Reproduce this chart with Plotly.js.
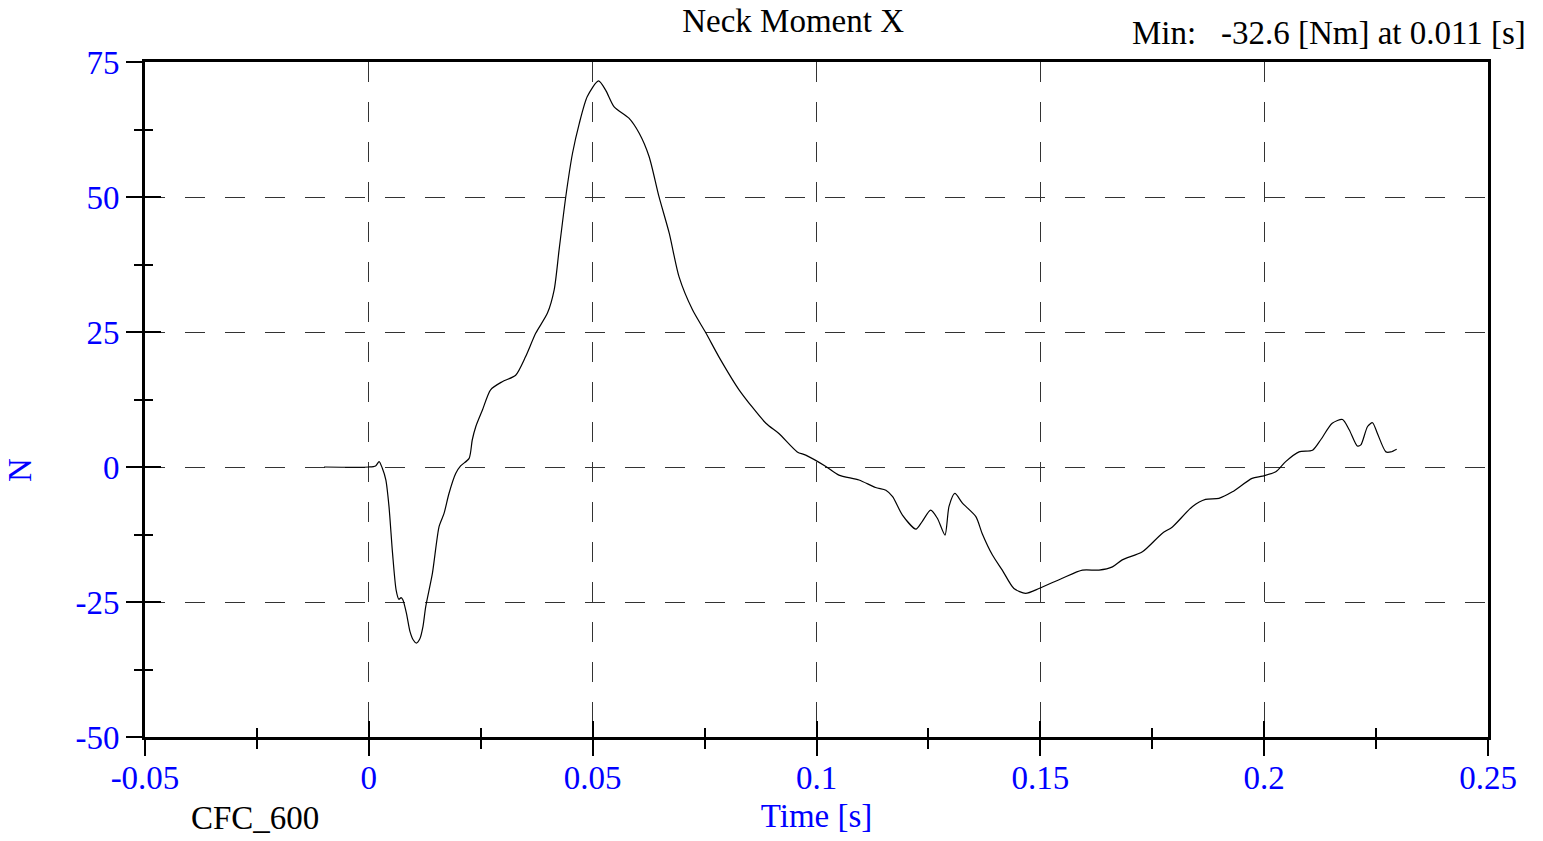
<!DOCTYPE html>
<html>
<head>
<meta charset="utf-8">
<script src="https://cdn.plot.ly/plotly-3.0.1.min.js"></script>
<style>html,body{margin:0;padding:0;background:#fff;}#chart{width:1543px;height:841px;}</style>
</head>
<body>
<div id="chart"></div>
<script>
const chartTitle = "Neck Moment X";
const minLabel = "Min:   -32.6 [Nm] at 0.011 [s]";
const filterLabel = "CFC_600";
const xTitle = "Time [s]";
const yTitle = "N";
const xTickVals = [-0.05, 0, 0.05, 0.1, 0.15, 0.2, 0.25];
const xTickText = ["-0.05", "0", "0.05", "0.1", "0.15", "0.2", "0.25"];
const yTickVals = [-50, -25, 0, 25, 50, 75];
const yTickText = ["-50", "-25", "0", "25", "50", "75"];

const time = [-0.01, 0.0, 0.0015, 0.0023, 0.003, 0.0038, 0.0045, 0.0053, 0.0061, 0.0067,
  0.0072, 0.0076, 0.0084, 0.0092, 0.0099, 0.0106, 0.0114, 0.0121, 0.0127, 0.0142, 0.0157, 0.0168,
  0.0179, 0.0194, 0.0205, 0.0224, 0.0231, 0.0239, 0.0254, 0.0272, 0.0298, 0.0328,
  0.035, 0.0373, 0.0399, 0.0414, 0.0425, 0.044, 0.0455, 0.047, 0.0488, 0.0513,
  0.0529, 0.0548, 0.0581, 0.0604, 0.0626, 0.0648, 0.0671, 0.0693, 0.0723, 0.0753,
  0.0782, 0.0827, 0.0887, 0.0916, 0.0957, 0.0976, 0.1021, 0.105, 0.1095, 0.1132,
  0.1155, 0.117, 0.1192, 0.1222, 0.1236, 0.1255, 0.127, 0.1287, 0.1296, 0.1309,
  0.1326, 0.1356, 0.137, 0.1393, 0.1415, 0.1441, 0.1467, 0.1497, 0.1549, 0.1594,
  0.1631, 0.1661, 0.1683, 0.1728, 0.1772, 0.1795, 0.184, 0.1869, 0.1899, 0.1929,
  0.1973, 0.1996, 0.2026, 0.2048, 0.2078, 0.2108, 0.2126, 0.2152, 0.2175, 0.219,
  0.2208, 0.2216, 0.2231, 0.2242, 0.2253, 0.2272, 0.2283, 0.2296];
const moment = [0, 0, 0.2, 1.0, -0.2, -2.4, -7.3, -16, -22.8, -24.5,
  -24.2, -24.6, -27.1, -30.5, -32.0, -32.6, -31.8, -29.5, -25.9, -19.7, -11, -8.6,
  -4.9, -1.2, 0.2, 1.6, 5.0, 7.5, 10.6, 14.3, 15.8, 17.0,
  20.4, 24.8, 28.5, 32.8, 40.2, 50.1, 58.1, 63.6, 68.6, 71.5,
  69.8, 66.7, 64.6, 61.8, 57.5, 50.1, 43.3, 35.2, 29.1, 24.8,
  20.4, 14.3, 8.1, 6.2, 2.8, 2.2, 0.1, -1.5, -2.4, -3.8,
  -4.3, -5.5, -8.9, -11.5, -10.1, -8.0, -9.5, -12.6, -7.3, -4.9,
  -6.7, -9.2, -12.3, -16.3, -19.1, -22.5, -23.4, -22.5, -20.6, -19.1,
  -19.1, -18.5, -17.2, -15.7, -12.3, -11.1, -7.3, -6.0, -5.8, -4.6,
  -2.1, -1.7, -0.9, 1.0, 2.8, 3.1, 5.0, 8.1, 8.8, 6.9,
  3.9, 4.1, 7.5, 8.2, 6.2, 2.8, 2.8, 3.3];

const FONT = "Liberation Serif, Times New Roman, serif";
const FS = 33;
const BLUE = "#0000ff";
const xRange = [-0.05, 0.25];
const yRange = [-50, 75];

const trace = {
  x: time, y: moment, type: "scatter", mode: "lines",
  line: {color: "#000", width: 1.2, shape: "spline", smoothing: 0.7},
  hoverinfo: "skip", showlegend: false
};
const ghost = {x: [xRange[0]], y: [yRange[0]], xaxis: "x2", yaxis: "y2", type: "scatter",
  mode: "markers", marker: {opacity: 0}, hoverinfo: "skip", showlegend: false};

const layout = {
  width: 1543, height: 841,
  margin: {l: 145, r: 55, t: 62, b: 104},
  paper_bgcolor: "#fff", plot_bgcolor: "#fff",
  font: {family: FONT, size: FS, color: "#000"},
  title: {text: chartTitle, font: {family: FONT, size: FS, color: "#000"},
    xref: "container", x: 0.514, xanchor: "center", yref: "container", y: 0.976, yanchor: "middle"},
  xaxis: {
    range: xRange, tickmode: "array", tickvals: xTickVals, ticktext: xTickText,
    ticks: "outside", ticklen: 16, tickwidth: 2, tickcolor: "#000",
    ticklabelstandoff: -7,
    minor: {dtick: 0.025, tick0: 0, ticks: "outside", ticklen: 9, tickwidth: 2, tickcolor: "#000", showgrid: false},
    showline: true, linewidth: 3, linecolor: "#000", mirror: true,
    showgrid: true, gridcolor: "#333", gridwidth: 1, griddash: "20px,20px",
    zeroline: false,
    tickfont: {family: FONT, size: FS, color: BLUE},
    title: {text: xTitle, font: {family: FONT, size: FS, color: BLUE}, standoff: 10}
  },
  yaxis: {
    range: yRange, tickmode: "array", tickvals: yTickVals, ticktext: yTickText,
    ticks: "outside", ticklen: 16, tickwidth: 2, tickcolor: "#000",
    minor: {dtick: 12.5, tick0: 0, ticks: "outside", ticklen: 8, tickwidth: 2, tickcolor: "#000", showgrid: false},
    showline: true, linewidth: 3, linecolor: "#000", mirror: true,
    showgrid: true, gridcolor: "#333", gridwidth: 1, griddash: "20px,20px",
    zeroline: false,
    tickfont: {family: FONT, size: FS, color: BLUE}
  },
  xaxis2: {
    overlaying: "x", anchor: "y2", side: "bottom", range: xRange,
    tickmode: "array", tickvals: xTickVals, showticklabels: false,
    ticks: "inside", ticklen: 16, tickwidth: 2, tickcolor: "#000",
    minor: {dtick: 0.025, tick0: 0, ticks: "inside", ticklen: 9, tickwidth: 2, tickcolor: "#000", showgrid: false},
    showline: false, showgrid: false, zeroline: false
  },
  yaxis2: {
    overlaying: "y", anchor: "x2", side: "left", range: yRange,
    tickmode: "array", tickvals: yTickVals, showticklabels: false,
    ticks: "inside", ticklen: 16, tickwidth: 2, tickcolor: "#000",
    minor: {dtick: 12.5, tick0: 0, ticks: "inside", ticklen: 8, tickwidth: 2, tickcolor: "#000", showgrid: false},
    showline: false, showgrid: false, zeroline: false
  },
  annotations: [
    {text: minLabel, xref: "paper", yref: "paper", x: 1.0298, y: 1.043,
      xanchor: "right", yanchor: "middle", showarrow: false,
      font: {family: FONT, size: FS, color: "#000"}},
    {text: filterLabel, xref: "paper", yref: "paper", x: 0.0819, y: -0.12,
      xanchor: "center", yanchor: "middle", showarrow: false,
      font: {family: FONT, size: FS, color: "#000"}},
    {text: yTitle, xref: "paper", yref: "paper", x: -0.093, y: 0.3956,
      xanchor: "center", yanchor: "middle", showarrow: false, textangle: -90,
      font: {family: FONT, size: FS, color: BLUE}}
  ]
};

Plotly.newPlot("chart", [trace, ghost], layout, {staticPlot: true, displayModeBar: false});
</script>
</body>
</html>
